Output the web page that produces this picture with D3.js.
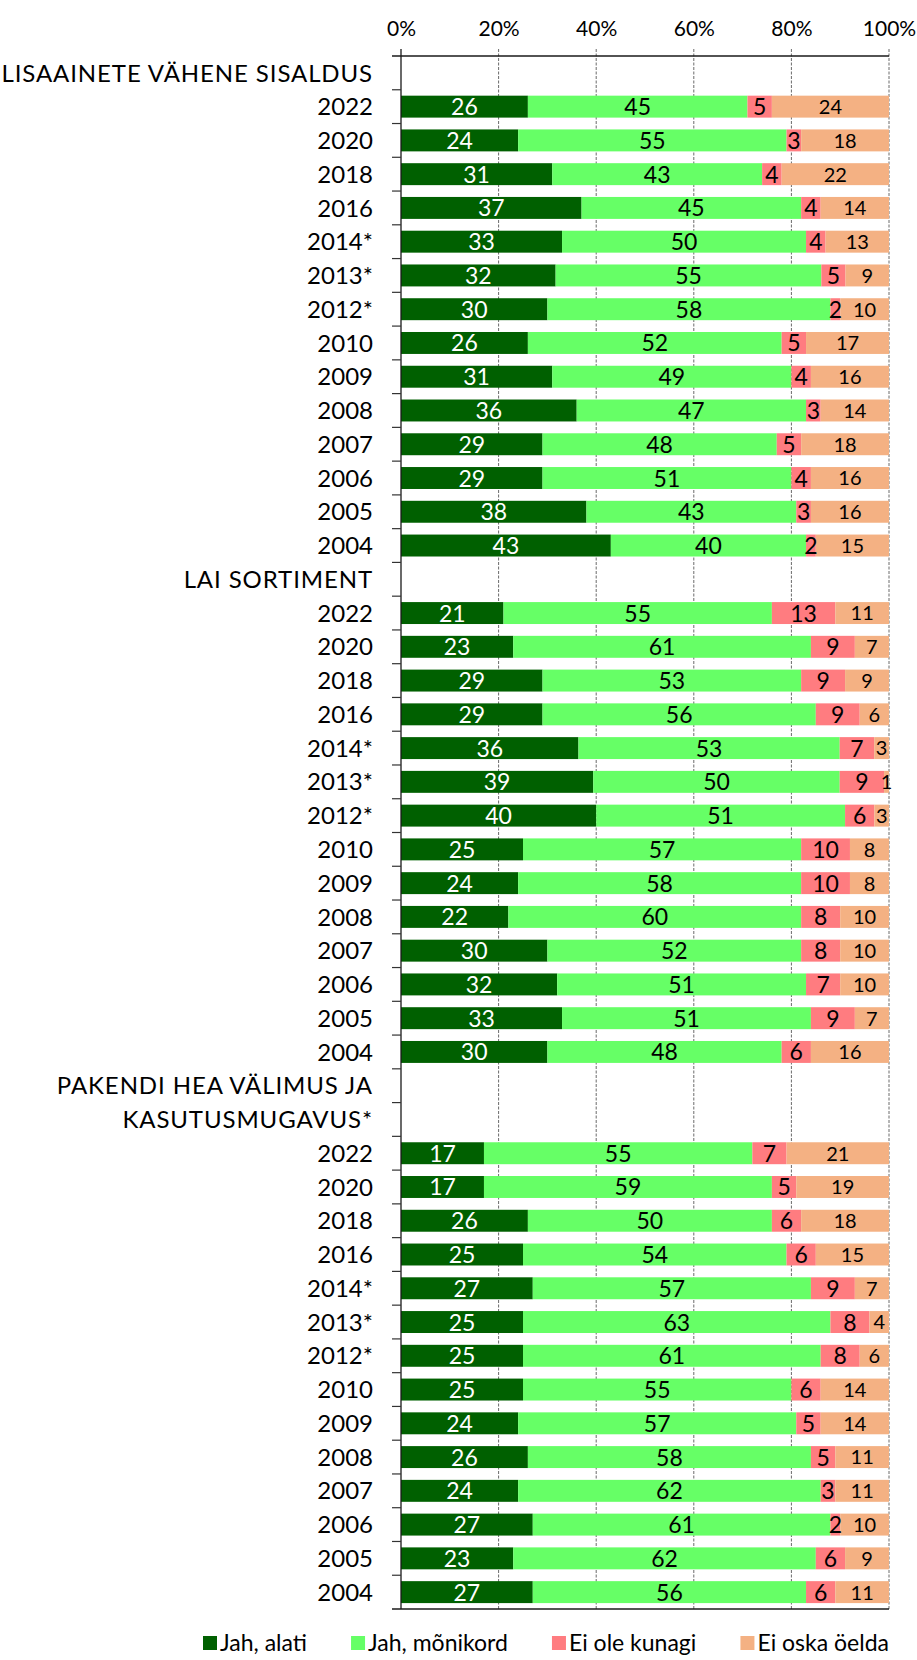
<!DOCTYPE html>
<html><head><meta charset="utf-8">
<script src="https://cdn.jsdelivr.net/npm/d3@7"></script>
<style>
body{margin:0;background:#fff}
svg{display:block}
text{font-family:Lato,"Open Sans","DejaVu Sans",sans-serif}
</style>
</head><body>
<svg id="chart" width="917" height="1660"></svg>
<script>
// ---- data ----
const seriesNames = ["Jah, alati", "Jah, mõnikord", "Ei ole kunagi", "Ei oska öelda"];
const groupLabels = [
  ["LISAAINETE VÄHENE SISALDUS"],
  ["LAI SORTIMENT"],
  ["PAKENDI HEA VÄLIMUS JA", "KASUTUSMUGAVUS*"]
];
const years = ["2022", "2020", "2018", "2016", "2014*", "2013*", "2012*", "2010", "2009", "2008", "2007", "2006", "2005", "2004"];
const xTickValues = [0, 0.2, 0.4, 0.6, 0.8, 1];

const jahAlati = [
  [26, 24, 31, 37, 33, 32, 30, 26, 31, 36, 29, 29, 38, 43],
  [21, 23, 29, 29, 36, 39, 40, 25, 24, 22, 30, 32, 33, 30],
  [17, 17, 26, 25, 27, 25, 25, 25, 24, 26, 24, 27, 23, 27]
];
const jahMonikord = [
  [45, 55, 43, 45, 50, 55, 58, 52, 49, 47, 48, 51, 43, 40],
  [55, 61, 53, 56, 53, 50, 51, 57, 58, 60, 52, 51, 51, 48],
  [55, 59, 50, 54, 57, 63, 61, 55, 57, 58, 62, 61, 62, 56]
];
const eiOleKunagi = [
  [5, 3, 4, 4, 4, 5, 2, 5, 4, 3, 5, 4, 3, 2],
  [13, 9, 9, 9, 7, 9, 6, 10, 10, 8, 8, 7, 9, 6],
  [7, 5, 6, 6, 9, 8, 8, 6, 5, 5, 3, 2, 6, 6]
];
const eiOskaOelda = [
  [24, 18, 22, 14, 13, 9, 10, 17, 16, 14, 18, 16, 16, 15],
  [11, 7, 9, 6, 3, 1, 3, 8, 8, 10, 10, 10, 7, 16],
  [21, 19, 18, 15, 7, 4, 6, 14, 14, 11, 11, 10, 9, 11]
];

// ---- styles ----
const colors = ["#006000", "#66ff66", "#ff7c80", "#f4b183"];
const labelColors = ["#ffffff", "#000000", "#000000", "#000000"];

(function () {
// ---- build rows ----
const seriesData = [jahAlati, jahMonikord, eiOleKunagi, eiOskaOelda];
const rows = [];
groupLabels.forEach((lbls, g) => {
  lbls.forEach((l, k) => rows.push({id: `h${g}-${k}`, label: l, header: true}));
  years.forEach((yr, i) => {
    const r = {id: `g${g}-${yr}`, label: yr, header: false};
    seriesNames.forEach((s, si) => r[s] = seriesData[si][g][i]);
    rows.push(r);
  });
});
const dataRows = rows.filter(r => !r.header);

const svg = d3.select("#chart");
const plotTop = 56, plotBottom = 1609, plotLeft = 401, plotRight = 889;

const x = d3.scaleLinear().domain([0, 1]).range([plotLeft, plotRight]);
const y = d3.scaleBand().domain(rows.map(r => r.id)).range([plotTop, plotBottom])
  .paddingInner(0.35).paddingOuter(0.175);

const stack = d3.stack().keys(seriesNames).offset(d3.stackOffsetExpand);
const stacked = stack(dataRows);

// gridlines (behind bars)
svg.append("g").selectAll("line").data(xTickValues.slice(1)).join("line")
  .attr("x1", d => x(d)).attr("x2", d => x(d))
  .attr("y1", plotTop - 7).attr("y2", plotBottom)
  .attr("stroke", "#6b6b6b").attr("stroke-width", 1).attr("stroke-dasharray", "3,1.5");

// bars
const layer = svg.append("g").selectAll("g").data(stacked).join("g")
  .attr("fill", (d, i) => colors[i]);
layer.selectAll("rect").data(d => d).join("rect")
  .attr("x", d => x(d[0]))
  .attr("width", d => x(d[1]) - x(d[0]))
  .attr("y", d => y(d.data.id))
  .attr("height", y.bandwidth());

// value labels
stacked.forEach((ser, si) => {
  svg.append("g").selectAll("text").data(ser).join("text")
    .attr("x", d => (x(d[0]) + x(d[1])) / 2)
    .attr("y", d => y(d.data.id) + y.bandwidth() / 2)
    .attr("dy", "0.37em")
    .attr("text-anchor", "middle")
    .attr("font-size", si === 3 ? 20 : 23)
    .attr("fill", labelColors[si])
    .text(d => d.data[ser.key]);
});

// top axis
const xAxis = d3.axisTop(x).tickValues(xTickValues).tickFormat(d3.format(".0%"))
  .tickSizeInner(0).tickSizeOuter(0).tickPadding(0);
const ax = svg.append("g").attr("transform", `translate(0,${plotTop})`).call(xAxis);
ax.select(".domain").remove();
ax.selectAll("text").attr("y", -20).attr("font-size", 21).attr("fill", "#000")
  .style("font-family", "Lato, sans-serif");

// axis lines
svg.append("line").attr("x1", plotLeft - 9).attr("x2", plotRight).attr("y1", plotTop).attr("y2", plotTop)
  .attr("stroke", "#1a1a1a").attr("stroke-width", 1.3);
svg.append("line").attr("x1", plotLeft - 9).attr("x2", plotRight).attr("y1", plotBottom).attr("y2", plotBottom)
  .attr("stroke", "#1a1a1a").attr("stroke-width", 1.3);
svg.append("line").attr("x1", plotLeft).attr("x2", plotLeft).attr("y1", plotTop - 7).attr("y2", plotBottom)
  .attr("stroke", "#1a1a1a").attr("stroke-width", 1.3);

// left ticks at band boundaries
const step = y.step();
svg.append("g").selectAll("line").data(d3.range(1, rows.length)).join("line")
  .attr("x1", plotLeft - 9).attr("x2", plotLeft)
  .attr("y1", i => plotTop + i * step).attr("y2", i => plotTop + i * step)
  .attr("stroke", "#333").attr("stroke-width", 1.2);

// category labels
svg.append("g").selectAll("text").data(rows).join("text")
  .attr("x", 373)
  .attr("y", d => y(d.id) + y.bandwidth() / 2)
  .attr("dy", "0.36em")
  .attr("text-anchor", "end")
  .attr("font-size", 24)
  .attr("letter-spacing", d => d.header ? "0.9px" : null)
  .attr("fill", "#000")
  .text(d => d.label);

// legend
const lg = svg.append("g").attr("transform", "translate(0,1643)");
const items = lg.selectAll("g").data(seriesNames).join("g");
items.append("rect").attr("width", 14).attr("height", 14).attr("y", -7)
  .attr("fill", (d, i) => colors[i]);
items.append("text").attr("x", 17).attr("dy", "0.36em").attr("font-size", 23)
  .attr("fill", "#000").text(d => d);
const widths = [];
items.each(function() { widths.push(d3.select(this).select("text").node().getComputedTextLength() + 17); });
const startX = 203, endX = 889;
const gap = (endX - startX - d3.sum(widths)) / (seriesNames.length - 1);
let cx = startX;
items.each(function(d, i) { d3.select(this).attr("transform", `translate(${cx},0)`); cx += widths[i] + gap; });
})();
</script>
</body></html>
